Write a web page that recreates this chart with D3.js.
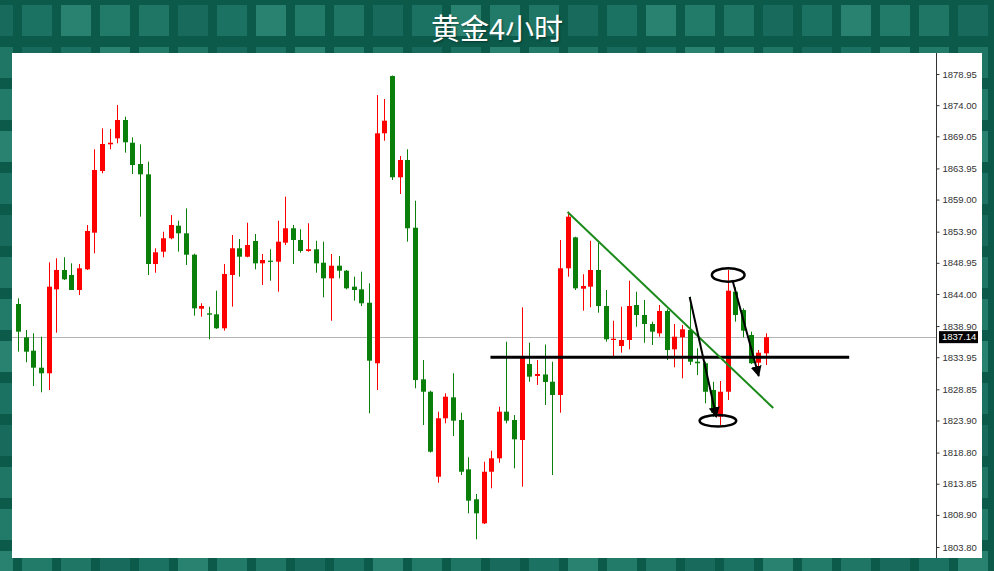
<!DOCTYPE html>
<html><head><meta charset="utf-8">
<script src="https://cdn.jsdelivr.net/npm/d3@7"></script>
<style>html,body{margin:0;padding:0;background:#0b5a4a;} svg{display:block}</style>
</head><body><svg id="c" width="994" height="571"></svg>
<script>
const title = "黄金4小时";
const opens = [1842.41,1837.12,1834.99,1832.29,1831.40,1844.74,1847.81,1847.02,1844.63,1847.92,
1853.74,1863.54,1867.78,1868.73,1871.64,1868.03,1864.65,1863.01,1848.76,1850.72,
1852.85,1854.85,1853.64,1850.24,1841.66,1840.93,1840.77,1838.55,1847.02,1851.26,
1849.92,1852.42,1848.87,1849.29,1849.13,1852.15,1854.44,1852.58,1850.83,1851.10,
1848.97,1846.49,1848.49,1847.70,1845.16,1844.74,1842.61,1832.99,1869.53,1878.63,
1862.54,1865.29,1854.53,1830.44,1828.47,1814.97,1824.25,1827.58,1823.98,1816.14,
1811.38,1807.56,1815.76,1817.89,1825.30,1823.98,1820.80,1832.87,1830.97,1831.21,
1830.06,1827.95,1848.08,1853.00,1844.84,1845.16,1847.81,1842.09,1836.69,1835.73,
1836.69,1842.25,1840.66,1839.23,1837.75,1841.30,1835.21,1837.12,1838.28,1833.24,
1832.99,1828.74,1824.50,1828.47,1844.36,1841.45,1837.48,1833.08,1834.57];
const highs = [1843.31,1838.28,1837.75,1837.21,1849.03,1849.67,1849.83,1848.87,1848.76,1854.96,
1866.99,1870.32,1870.21,1874.02,1872.17,1868.89,1867.78,1865.02,1851.26,1853.89,
1856.55,1855.64,1857.61,1850.40,1842.52,1841.98,1844.52,1848.76,1853.37,1852.73,
1855.32,1853.53,1850.35,1851.10,1855.64,1859.46,1854.96,1854.28,1855.23,1852.46,
1852.31,1850.35,1850.03,1847.81,1846.75,1847.54,1845.70,1875.61,1874.98,1878.71,
1865.92,1866.99,1858.82,1833.51,1828.63,1825.30,1828.22,1831.40,1825.14,1818.05,
1812.22,1817.35,1819.10,1826.09,1836.42,1824.77,1841.88,1836.26,1833.51,1835.97,
1833.24,1852.58,1857.07,1853.10,1847.13,1852.46,1852.15,1844.63,1839.75,1841.98,
1846.11,1844.36,1843.04,1839.60,1842.25,1841.57,1839.23,1839.07,1843.57,1835.37,
1833.24,1830.06,1830.17,1847.81,1845.06,1841.72,1838.01,1835.10,1837.75];
const lows = [1834.83,1833.14,1829.38,1828.38,1828.74,1837.85,1846.22,1844.63,1843.84,1847.81,
1850.46,1863.17,1866.99,1867.94,1866.45,1863.06,1856.28,1847.02,1847.38,1849.83,
1852.69,1850.72,1848.60,1840.55,1840.39,1836.80,1838.45,1838.17,1841.98,1846.75,
1849.83,1847.92,1845.43,1846.11,1844.36,1851.78,1848.76,1850.56,1850.72,1847.38,
1843.47,1839.75,1846.49,1844.74,1842.93,1842.09,1825.04,1828.74,1868.35,1862.11,
1859.88,1852.31,1829.01,1823.18,1818.80,1814.02,1823.45,1821.44,1815.24,1809.15,
1805.02,1807.45,1813.13,1817.19,1823.45,1816.30,1813.38,1830.06,1829.54,1826.36,
1815.24,1825.14,1846.75,1844.63,1841.34,1841.88,1841.03,1836.42,1834.03,1834.67,
1835.21,1838.80,1836.26,1835.89,1837.21,1833.51,1832.35,1830.60,1832.72,1831.13,
1826.63,1824.50,1823.18,1827.16,1839.60,1837.12,1832.87,1831.65,1832.72];
const closes = [1838.01,1834.83,1832.29,1831.40,1845.16,1847.81,1846.33,1844.63,1848.08,1854.01,
1863.70,1867.83,1868.03,1871.64,1868.10,1864.49,1863.01,1848.76,1850.62,1852.85,
1854.96,1853.64,1850.24,1841.72,1842.09,1840.71,1838.55,1847.17,1851.26,1849.92,
1851.78,1848.87,1849.40,1849.13,1852.31,1854.44,1852.58,1850.83,1851.10,1848.87,
1846.49,1848.49,1847.70,1844.90,1844.63,1842.52,1833.40,1869.53,1871.53,1862.54,
1865.29,1854.44,1830.33,1828.47,1818.94,1824.25,1827.68,1823.87,1815.76,1811.16,
1809.15,1815.76,1817.89,1825.30,1823.87,1820.91,1833.94,1830.86,1831.29,1830.01,
1827.95,1848.08,1856.28,1844.90,1845.27,1847.81,1842.09,1836.80,1836.89,1836.69,
1842.09,1840.66,1839.23,1838.01,1841.30,1835.10,1837.21,1838.39,1833.24,1832.99,
1828.47,1825.14,1828.47,1844.52,1840.66,1838.17,1832.99,1834.67,1837.14];
const yTicks = [1878.95,1874.00,1869.05,1863.95,1859.00,1853.90,1848.95,1844.00,1838.90,1833.95,1828.85,1823.90,1818.80,1813.85,1808.90,1803.80];
const lastPrice = 1837.14;
// annotations (candle index, price)
const trendLine = [[72, 1857.02], [98.95, 1825.88]];
const supportLine = [[61.9, 1833.95], [108.9, 1833.95]];
const arrows = [[[88.0, 1843.52], [91.5, 1824.45]], [[93.6, 1846.22], [97.05, 1830.97]]];
const ellipses = [{i: 93.05, p: 1847.02, ri: 2.14, rp: 1.06}, {i: 91.7, p: 1823.85, ri: 2.4, rp: 0.92}];

const svg = d3.select("#c");
const W = 994, H = 571;
const panel = {x0: 12, x1: 982, y0: 53, y1: 558, axisX: 936};

// background decorative tiles
const bg = svg.append("g");
bg.append("rect").attr("width", W).attr("height", H).attr("fill", "#0b5a4a");
const tileCols = ["#1c7262", "#227a69", "#186b5c", "#28826f", "#1f7665"];
const tiles = [];
for (let r = 0; r < 14; r++) for (let c = -1; c < 26; c++) tiles.push({r, c});
bg.selectAll("rect.t").data(tiles).join("rect").attr("class", "t")
  .attr("x", d => 22 + 39 * d.c).attr("y", d => 5 + 42 * d.r)
  .attr("width", 30).attr("height", 31)
  .attr("fill", d => tileCols[(d.c * 3 + d.r * 7 + 20) % 5]);

// title
svg.append("text").attr("x", 497).attr("y", 40).attr("text-anchor", "middle")
  .attr("font-family", "'Noto Sans CJK SC', sans-serif").attr("font-size", 29)
  .attr("fill", "#ffffff").style("text-shadow", "1px 1px 2px rgba(0,0,0,0.4)").text(title);

// panel
svg.append("rect").attr("x", panel.x0).attr("y", panel.y0)
  .attr("width", panel.x1 - panel.x0).attr("height", panel.y1 - panel.y0).attr("fill", "#ffffff");

const x = d3.scaleLinear().domain([0, 98]).range([18, 766]);
const y = d3.scaleLinear().domain([1803.80, 1878.95]).range([547, 74]);

svg.append("defs").append("clipPath").attr("id", "clip").append("rect")
  .attr("x", panel.x0).attr("y", panel.y0).attr("width", panel.axisX - panel.x0).attr("height", panel.y1 - panel.y0);
const plot = svg.append("g").attr("clip-path", "url(#clip)");

// current price line
plot.append("line").attr("x1", panel.x0).attr("x2", panel.axisX)
  .attr("y1", Math.round(y(lastPrice)) + 0.5).attr("y2", Math.round(y(lastPrice)) + 0.5)
  .attr("stroke", "#b4b4b4").attr("stroke-width", 1);

const data = opens.map((o, i) => ({i, o, h: highs[i], l: lows[i], c: closes[i]}));
const col = d => d.c >= d.o ? "#ff0000" : "#0a800a";
const cg = plot.selectAll("g.cd").data(data).join("g").attr("class", "cd");
cg.append("line").attr("x1", d => Math.round(x(d.i)) + 0.5).attr("x2", d => Math.round(x(d.i)) + 0.5)
  .attr("y1", d => y(d.h)).attr("y2", d => y(d.l)).attr("stroke", col).attr("stroke-width", 1);
cg.append("rect").attr("x", d => Math.round(x(d.i)) - 2).attr("width", 5)
  .attr("y", d => y(Math.max(d.o, d.c)))
  .attr("height", d => Math.max(1.2, Math.abs(y(d.o) - y(d.c))))
  .attr("fill", col);

// annotations
const defs = svg.select("defs");
defs.append("marker").attr("id", "ah").attr("viewBox", "0 0 10 10").attr("refX", 9).attr("refY", 5)
  .attr("markerWidth", 5.5).attr("markerHeight", 5.5).attr("orient", "auto")
  .append("path").attr("d", "M0,0 L10,5 L0,10 Z").attr("fill", "#000");

const ln = d3.line().x(d => x(d[0])).y(d => y(d[1]));
plot.append("path").attr("d", ln(supportLine)).attr("stroke", "#000").attr("stroke-width", 3).attr("fill", "none");
plot.append("path").attr("d", ln(trendLine)).attr("stroke", "#1a8a1a").attr("stroke-width", 2).attr("fill", "none");
arrows.forEach(a => {
  plot.append("path").attr("d", ln(a)).attr("stroke", "#000").attr("stroke-width", 2)
    .attr("fill", "none").attr("marker-end", "url(#ah)");
});
ellipses.forEach(e => {
  plot.append("ellipse").attr("cx", x(e.i)).attr("cy", y(e.p))
    .attr("rx", x(e.i + e.ri) - x(e.i)).attr("ry", y(e.p - e.rp) - y(e.p))
    .attr("fill", "none").attr("stroke", "#000").attr("stroke-width", 2.5);
});

// axis
svg.append("line").attr("x1", panel.axisX + 0.5).attr("x2", panel.axisX + 0.5)
  .attr("y1", panel.y0).attr("y2", panel.y1).attr("stroke", "#333").attr("stroke-width", 1);
const ax = svg.append("g").attr("transform", `translate(${panel.axisX + 0.5},0)`)
  .call(d3.axisRight(y).tickValues(yTicks).tickFormat(d => d.toFixed(2)).tickSize(3).tickPadding(3));
ax.select(".domain").remove();
ax.selectAll("line").attr("stroke", "#333");
ax.selectAll("text").attr("font-family", "'Liberation Sans', Arial, sans-serif").attr("font-size", 9.5).attr("fill", "#333");

// last price label
const ly = y(lastPrice);
svg.append("rect").attr("x", 939).attr("y", ly - 6).attr("width", 39).attr("height", 12).attr("fill", "#000");
svg.append("text").attr("x", 942).attr("y", ly).attr("dy", "0.35em")
  .attr("font-family", "'Liberation Sans', Arial, sans-serif").attr("font-size", 9.5)
  .attr("fill", "#fff").text(lastPrice.toFixed(2));
</script></body></html>
